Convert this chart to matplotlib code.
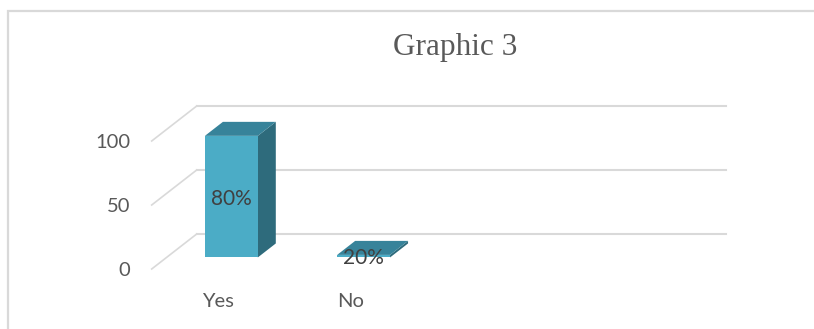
import matplotlib
matplotlib.use("Agg")
import matplotlib.pyplot as plt
from matplotlib.patches import Polygon, Rectangle

# data
categories = ["Yes", "No"]
values = [95, 2]
labels = ["80%", "20%"]
yticks = [0, 50, 100]
n_slots = 4  # the chart's category axis has room for 4 categories

plt.rcParams["font.family"] = ["Lato", "DejaVu Sans"]

W, H = 814, 329
fig = plt.figure(figsize=(W / 100, H / 100), dpi=100)

# front-plane axes: x in category units, y in value units
ax = fig.add_axes([151.7 / W, 60 / H, 529 / W, 128 / H])
ax.set_xlim(-0.5, n_slots - 0.5)
ax.set_ylim(0, 100)
for s in ax.spines.values():
    s.set_visible(False)

# oblique depth offset (full depth of the floor) in data units
DX = 45 / 132.25
DV = 35 / 1.28
grid_c = "#d9d9d9"

# back wall gridlines and side-wall diagonals
for v in yticks:
    ax.plot([-0.5 + DX, n_slots - 0.5 + DX], [v + DV, v + DV], color=grid_c,
            lw=1.5, clip_on=False, zorder=1)
    ax.plot([-0.5, -0.5 + DX], [v, v + DV], color=grid_c, lw=1.2,
            clip_on=False, zorder=1)

front_c = "#4bacc6"
top_c = "#37839a"
side_c = "#2e6b7c"
half_w = 0.2
d0, d1 = 0.33, 0.73

for i, (h, lab) in enumerate(zip(values, labels)):
    xl, xr = i - half_w - 0.01, i + half_w - 0.01
    fx, fv = d0 * DX, d0 * DV
    bx, bv = d1 * DX, d1 * DV
    side = Polygon([(xr + fx, fv), (xr + bx, bv), (xr + bx, h + bv), (xr + fx, h + fv)],
                   closed=True, fc=side_c, ec="none", clip_on=False, zorder=3)
    top = Polygon([(xl + fx, h + fv), (xr + fx, h + fv), (xr + bx, h + bv), (xl + bx, h + bv)],
                  closed=True, fc=top_c, ec="none", clip_on=False, zorder=3)
    front = Rectangle((xl + fx, fv), xr - xl, h, fc=front_c, ec="none",
                      clip_on=False, zorder=4)
    ax.add_patch(side)
    ax.add_patch(top)
    ax.add_patch(front)
    ax.text((xl + xr) / 2 + fx, fv + h / 2 - 1.5, lab, ha="center", va="center",
            fontsize=15, color="#404040", zorder=5)

ax.set_yticks(yticks)
ax.set_xticks(range(len(categories)))
ax.set_xticklabels(categories)
ax.tick_params(axis="y", length=0, pad=15.5, labelsize=14.5, labelcolor="#595959")
ax.tick_params(axis="x", length=0, pad=17.5, labelsize=14.5, labelcolor="#595959")

fig.text(455 / W, 1 - 47 / H, "Graphic 3", ha="center", va="center",
         fontsize=22.5, family="Liberation Serif", color="#595959")

# chart border
fig.patches.append(Rectangle((7.5 / W, -0.1), 1.2, 1 - 11 / H + 0.1, transform=fig.transFigure,
                             fill=False, ec=grid_c, lw=1.6))

fig.savefig("out.png", dpi=100)
